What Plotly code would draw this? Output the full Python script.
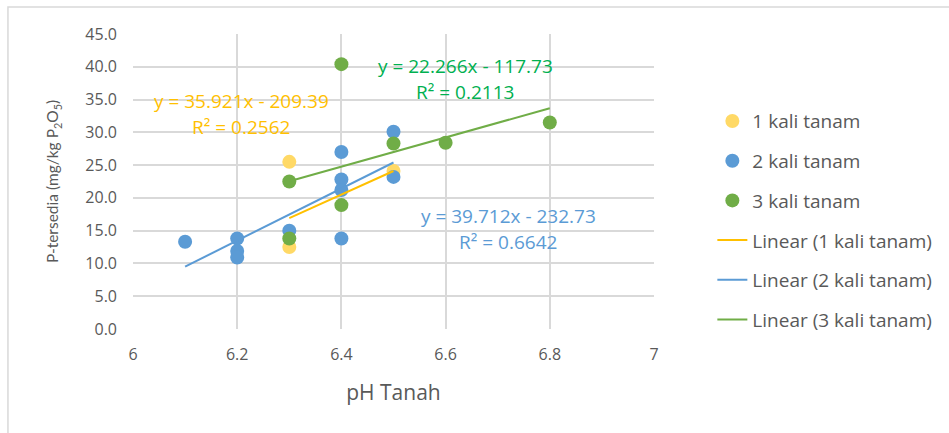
import plotly.graph_objects as go

# ---- data ----
ph1 = [6.3, 6.3, 6.5]
p1 = [25.5, 12.5, 24.1]

ph2 = [6.1, 6.2, 6.2, 6.2, 6.3, 6.4, 6.4, 6.4, 6.4, 6.5, 6.5]
p2 = [13.3, 13.8, 11.9, 10.9, 15.0, 27.0, 22.8, 21.2, 13.8, 30.1, 23.2]

ph3 = [6.3, 6.3, 6.4, 6.4, 6.5, 6.6, 6.8]
p3 = [22.5, 13.8, 40.4, 18.9, 28.3, 28.4, 31.5]

series_names = ["1 kali tanam", "2 kali tanam", "3 kali tanam"]
slopes = [35.921, 39.712, 22.266]
intercepts = [-209.39, -232.73, -117.73]
r2_values = [0.2562, 0.6642, 0.2113]

x_ticks = [6, 6.2, 6.4, 6.6, 6.8, 7]
x_tick_labels = ["6", "6.2", "6.4", "6.6", "6.8", "7"]
y_ticks = [0, 5, 10, 15, 20, 25, 30, 35, 40, 45]
y_tick_labels = ["0.0", "5.0", "10.0", "15.0", "20.0", "25.0", "30.0", "35.0", "40.0", "45.0"]

marker_colors = ["#FFD966", "#5B9BD5", "#70AD47"]
line_colors = ["#FFC000", "#5B9BD5", "#70AD47"]
label_colors = ["#FFC000", "#5B9BD5", "#00B050"]

FONT = "Open Sans"
GRAY = "#595959"

fig = go.Figure()
xs_all = [ph1, ph2, ph3]
ys_all = [p1, p2, p3]

for i in range(3):
    fig.add_trace(go.Scatter(
        x=xs_all[i], y=ys_all[i], mode="markers", name=series_names[i],
        legendgroup="g%d" % i,
        marker=dict(color=marker_colors[i], size=14, line=dict(width=0)),
    ))

for i in range(3):
    xmin, xmax = min(xs_all[i]), max(xs_all[i])
    fig.add_trace(go.Scatter(
        x=[xmin, xmax],
        y=[slopes[i] * xmin + intercepts[i], slopes[i] * xmax + intercepts[i]],
        mode="lines", name="Linear (%s)" % series_names[i],
        legendgroup="l%d" % i,
        line=dict(color=line_colors[i], width=2),
    ))

# equation label placement (data coordinates): x centre, y of equation line, y of R² line
label_x = [6.2076, 6.72, 6.638]
label_y_eq = [34.78, 17.24, 40.12]
label_y_r2 = [30.81, 13.27, 36.15]
for i in range(3):
    sign = "-" if intercepts[i] < 0 else "+"
    eq = "y = %.3fx %s %.2f" % (slopes[i], sign, abs(intercepts[i]))
    r2 = "R² = %.4f" % r2_values[i]
    for txt, yy in ((eq, label_y_eq[i]), (r2, label_y_r2[i])):
        fig.add_annotation(
            x=label_x[i], y=yy, text=txt, showarrow=False,
            font=dict(family=FONT, size=19, color=label_colors[i]),
            xanchor="center", yanchor="middle",
        )

fig.update_layout(
    width=949, height=433,
    margin=dict(l=133, r=291, t=34, b=104),
    paper_bgcolor="white", plot_bgcolor="white",
    font=dict(family=FONT, color=GRAY, size=16),
    showlegend=True,
    legend=dict(
        x=1.112, y=0.769, xanchor="left", yanchor="top",
        font=dict(family=FONT, size=19, color=GRAY),
        tracegroupgap=12, bgcolor="rgba(0,0,0,0)",
    ),
    xaxis=dict(
        range=[6, 7], tickvals=x_ticks, ticktext=x_tick_labels,
        showgrid=True, gridcolor="#D9D9D9", gridwidth=2,
        zeroline=False, showline=False,
        ticks="", ticklabelstandoff=14,
        tickfont=dict(family=FONT, size=16, color=GRAY),
        title=dict(text="pH Tanah", font=dict(family=FONT, size=21, color=GRAY), standoff=21),
        fixedrange=True,
    ),
    yaxis=dict(
        range=[0, 45], tickvals=y_ticks, ticktext=y_tick_labels,
        showgrid=True, gridcolor="#D9D9D9", gridwidth=2,
        zeroline=False, showline=False,
        ticks="", ticklabelstandoff=15,
        tickfont=dict(family=FONT, size=16, color=GRAY),
        title=dict(text="P-tersedia (mg/kg P<sub>2</sub>O<sub>5</sub>)",
                   font=dict(family="Lato", size=15.5, color=GRAY), standoff=22),
        fixedrange=True,
    ),
)

# outer chart border
fig.add_shape(type="rect", xref="paper", yref="paper",
              x0=(7 - 133) / 525, x1=1.7, y0=-0.5, y1=(329 - 7) / 295,
              line=dict(color="#D9D9D9", width=1.5), fillcolor="rgba(0,0,0,0)", layer="below")

fig.write_html("out.html")
